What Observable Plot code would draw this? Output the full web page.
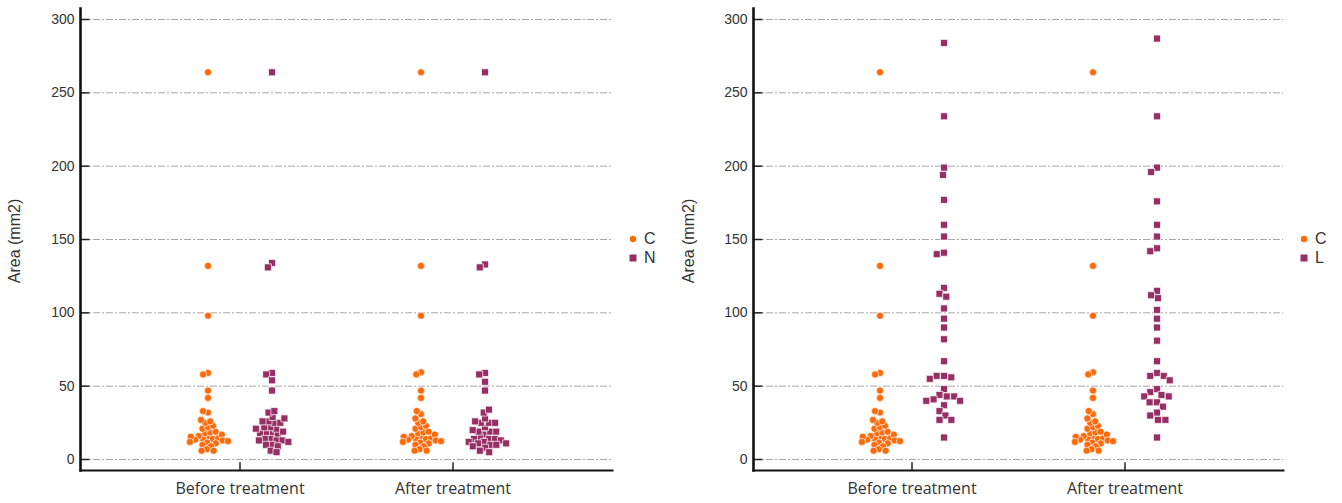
<!DOCTYPE html>
<html>
<head>
<meta charset="utf-8">
<script src="https://cdn.jsdelivr.net/npm/d3@7"></script>
<script src="https://cdn.jsdelivr.net/npm/@observablehq/plot@0.6"></script>
<style>
  html, body { margin: 0; padding: 0; background: #fff; }
  #chart { position: relative; width: 1342px; height: 503px; overflow: hidden; }
  .panel { position: absolute; top: 0; width: 671px; height: 503px; }
  .panel svg { position: absolute; top: 0; left: 0; background: transparent; }
  .ylab { position: absolute; width: 200px; height: 20px; line-height: 20px; text-align: center;
          transform: rotate(-90deg); font: 16px "Liberation Sans", Arial, sans-serif; color: #333; }
  .legend { position: absolute; font: 16px "Liberation Sans", Arial, sans-serif; color: #333; }
  .legend div { height: 19px; line-height: 19px; display: flex; align-items: center; }
  .legend svg { position: static; margin-right: 6px; }
</style>
</head>
<body>
<div id="chart"></div>
<script>
// ---- data (area, mm2) ----
const periods = ["Before treatment", "After treatment"];
const yTicks = [0, 50, 100, 150, 200, 250, 300];

const cBefore = [264, 132, 98, 59, 58, 47, 42, 15, 14, 14, 16, 14.5, 13.5, 17, 13, 15.5, 12.5, 18, 12, 18.5, 11.5, 19, 11, 21, 10, 22, 9, 23, 7, 25, 6, 26, 6, 27, 32, 33];
const cAfter  = [264, 132, 98, 59.5, 58, 47, 42, 15, 14, 14, 16, 14.5, 13.5, 17, 13, 15.5, 12.5, 18, 12, 18.5, 11.5, 19, 11, 21, 10, 22, 9, 23, 7, 25, 6, 26, 6, 28, 31, 33];
const nBefore = [264, 134, 131, 59, 58, 54, 47, 18, 18, 17, 19, 18, 21, 14, 21, 14, 22, 13, 22, 13, 25, 13, 25, 12, 26, 10, 26, 10, 28, 9, 29, 6, 32, 5, 33];
const nAfter  = [264, 133, 131, 59, 58, 53, 47, 17, 15, 19, 14, 19, 14, 19, 14, 20, 13, 22, 12, 25, 12, 25, 11, 25, 11, 26, 10, 28, 10, 9, 32, 8, 34, 6, 5];
const lBefore = [284, 234, 199, 194, 177, 160, 152, 141, 140, 117, 113, 111, 103, 96, 90, 82, 67, 57, 57, 56, 55, 48, 44, 43, 43, 41, 40, 40, 37, 33, 30, 27, 27, 15];
const lAfter  = [287, 234, 199, 196, 176, 160, 152, 144, 142, 115, 112, 110, 102, 96, 90, 81, 67, 59, 57, 57, 54, 48, 46, 44, 43, 43, 39, 39, 36, 32, 30, 27, 27, 15];

const colorC = "#ff6a0a";
const colorT = "#982f64";

function rows(values, period) { return values.map(v => ({period, value: v})); }

// axis tick glyphs
const hTick = {draw(ctx, size) { const l = Math.sqrt(size); ctx.moveTo(0, 0); ctx.lineTo(l, 0); }};
const vTick = {draw(ctx, size) { const l = Math.sqrt(size); ctx.moveTo(0, 0); ctx.lineTo(0, -l); }};
// point glyphs of a fixed drawn size; the dot radius only drives the swarm spacing,
// so neighbouring points may overlap as in the original
const circle36 = {draw(ctx) { const r = 3.6; ctx.moveTo(r, 0); ctx.arc(0, 0, r, 0, 2 * Math.PI); ctx.closePath(); }};
const square7 = {draw(ctx) { const s = 3.5; ctx.rect(-s, -s, 2 * s, 2 * s); }};

function panel(opts) {
  const {left, mLeft, pad, treatName, tBefore, tAfter, ylabX, tSpacing} = opts;
  const W = 671, H = 503, mRight = 59, mTop = 8, mBottom = 33;
  const yDomain = [-7.5, 307.5];
  const div = document.createElement("div");
  div.className = "panel";
  div.style.left = left + "px";

  const bg = Plot.plot({
    width: W, height: H, marginLeft: mLeft, marginRight: mRight, marginTop: mTop, marginBottom: mBottom,
    x: {type: "band", domain: periods, paddingInner: pad, paddingOuter: pad, axis: null},
    y: {domain: yDomain, axis: null},
    marks: [
      Plot.ruleY(yTicks, {stroke: "#a8a8a8", strokeWidth: 1, strokeDasharray: "7,2,2,2"}),
      Plot.dot(yTicks, {y: d => d, frameAnchor: "left", symbol: hTick, r: 5, stroke: "#222", strokeWidth: 1.5, fill: "none"}),
      Plot.text(yTicks, {y: d => d, frameAnchor: "left", textAnchor: "end", dx: -6, fontSize: 14,
        fill: "#333", fontFamily: "Liberation Sans, Arial, sans-serif"}),
      Plot.dot(periods, {x: d => d, frameAnchor: "bottom", symbol: vTick, r: 4.6, stroke: "#222", strokeWidth: 1.5, fill: "none"}),
      Plot.text(periods, {x: d => d, frameAnchor: "bottom", lineAnchor: "top", dy: 12, fontSize: 16,
        fill: "#333", fontFamily: "Open Sans, Noto Sans, sans-serif"}),
      Plot.frame({anchor: "bottom", stroke: "#111", strokeWidth: 2}),
      Plot.frame({anchor: "left", stroke: "#111", strokeWidth: 2.6})
    ]
  });

  const cData = rows(cBefore, periods[0]).concat(rows(cAfter, periods[1]));
  const tData = rows(tBefore, periods[0]).concat(rows(tAfter, periods[1]));

  const fg = Plot.plot({
    width: W, height: H, marginLeft: mLeft, marginRight: mRight, marginTop: mTop, marginBottom: mBottom,
    fx: {domain: periods, paddingInner: pad, paddingOuter: pad, axis: null},
    y: {domain: yDomain, axis: null},
    marks: [
      Plot.dot(cData, Plot.dodgeX("middle", {fx: "period", y: "value", r: 2.1, padding: 0.2, dx: -32,
        symbol: circle36, fill: colorC, stroke: "white", strokeWidth: 0.7})),
      Plot.dot(tData, Plot.dodgeX("middle", {fx: "period", y: "value", r: tSpacing, padding: 0.3, dx: 32,
        symbol: square7, fill: colorT, stroke: "white", strokeWidth: 0.7}))
    ]
  });

  div.appendChild(bg);
  div.appendChild(fg);

  const yl = document.createElement("div");
  yl.className = "ylab";
  yl.textContent = "Area (mm2)";
  yl.style.left = (ylabX - 100) + "px";
  yl.style.top = (241 - 10) + "px";
  div.appendChild(yl);

  const lg = document.createElement("div");
  lg.className = "legend";
  lg.style.left = "628px";
  lg.style.top = "229px";
  lg.innerHTML =
    `<div><svg width="10" height="10"><circle cx="5" cy="5" r="3.2" fill="${colorC}"/></svg>C</div>` +
    `<div><svg width="10" height="10"><rect x="1.5" y="1.5" width="7" height="7" fill="${colorT}"/></svg>${treatName}</div>`;
  div.appendChild(lg);

  return div;
}

const chart = document.getElementById("chart");
chart.appendChild(panel({left: 0, mLeft: 80, pad: 0.486, treatName: "N", tBefore: nBefore, tAfter: nAfter, ylabX: 16, tSpacing: 2.5}));
chart.appendChild(panel({left: 671, mLeft: 82, pad: 0.477, treatName: "L", tBefore: lBefore, tAfter: lAfter, ylabX: 19, tSpacing: 3.2}));
</script>
</body>
</html>
